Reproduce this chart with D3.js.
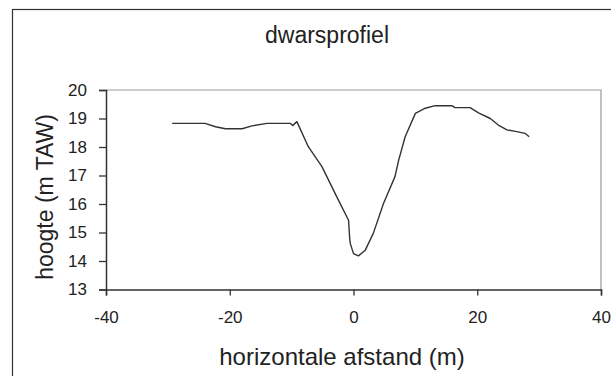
<!DOCTYPE html>
<html>
<head>
<meta charset="utf-8">
<script src="https://cdn.jsdelivr.net/npm/d3@7"></script>
<style>
  body { margin: 0; background: #fff; }
  svg { display: block; font-family: "Liberation Sans", Arial, sans-serif; }
</style>
</head>
<body>
<div id="chart"></div>
<script>
// profile points: distance (m) and height (m TAW)
const distance = [-29.3, -24.0, -22.3, -20.7, -18.0, -16.4, -14.0, -10.2, -9.85, -9.15,
  -7.3, -5.1, -2.7, -0.8, -0.6, -0.5, 0.0, 0.8, 1.9, 3.2, 4.85, 6.7, 7.3, 8.35,
  10.0, 11.6, 13.2, 15.9, 16.4, 18.85, 20.2, 22.1, 23.4, 24.8, 26.4, 27.7, 28.4];
const height = [18.83, 18.83, 18.71, 18.64, 18.64, 18.74, 18.83, 18.83, 18.75, 18.89,
  18.01, 17.31, 16.25, 15.43, 14.75, 14.6, 14.26, 14.18, 14.38, 14.97, 16.02, 16.96, 17.54, 18.36,
  19.18, 19.36, 19.45, 19.45, 19.38, 19.38, 19.2, 19.0, 18.77, 18.6, 18.54, 18.48, 18.36];
const xTicks = [-40, -20, 0, 20, 40];
const yTicks = [13, 14, 15, 16, 17, 18, 19, 20];

const width = 611, heightPx = 376;
const plot = { left: 106, right: 601, top: 90, bottom: 289.5 };

const svg = d3.select("#chart").append("svg")
  .attr("width", width)
  .attr("height", heightPx);

svg.append("rect")
  .attr("width", width).attr("height", heightPx)
  .attr("fill", "#fff");

// outer chart frame
svg.append("rect")
  .attr("x", 12.5).attr("y", 9.5)
  .attr("width", 640).attr("height", 420)
  .attr("fill", "none")
  .attr("stroke", "#333")
  .attr("stroke-width", 1.2);

const x = d3.scaleLinear().domain([-40, 40]).range([plot.left, plot.right]);
const y = d3.scaleLinear().domain([13, 20]).range([plot.bottom, plot.top]);

// light border on top and right of the plot area
svg.append("path")
  .attr("d", `M${plot.left},${plot.top}H${plot.right}V${plot.bottom}`)
  .attr("fill", "none")
  .attr("stroke", "#999")
  .attr("stroke-width", 1.2);

const xAxis = svg.append("g")
  .attr("transform", `translate(0,${plot.bottom})`)
  .call(d3.axisBottom(x).tickValues(xTicks).tickSize(6).tickPadding(15).tickFormat(d => String(d)));

const yAxis = svg.append("g")
  .attr("transform", `translate(${plot.left},0)`)
  .call(d3.axisLeft(y).tickValues(yTicks).tickSize(7).tickPadding(12).tickFormat(d => String(d)));

[xAxis, yAxis].forEach(g => {
  g.select(".domain").attr("stroke", "#333").attr("stroke-width", 1.5);
  g.selectAll(".tick line").attr("stroke", "#333").attr("stroke-width", 1.3);
  g.selectAll(".tick text")
    .attr("fill", "#222")
    .style("font-size", "17px")
    .style("font-family", "'Liberation Sans', Arial, sans-serif");
});

// profile line
const line = d3.line()
  .x((d, i) => x(distance[i]))
  .y(d => y(d));

svg.append("path")
  .datum(height)
  .attr("d", line)
  .attr("fill", "none")
  .attr("stroke", "#333")
  .attr("stroke-width", 1.4)
  .attr("stroke-linejoin", "round");

// titles
svg.append("text")
  .attr("x", 327).attr("y", 43)
  .attr("text-anchor", "middle")
  .attr("fill", "#222")
  .style("font-size", "23px")
  .text("dwarsprofiel");

svg.append("text")
  .attr("x", 342).attr("y", 365)
  .attr("text-anchor", "middle")
  .attr("fill", "#222")
  .style("font-size", "24px")
  .text("horizontale afstand (m)");

svg.append("text")
  .attr("transform", "translate(53,197) rotate(-90)")
  .attr("text-anchor", "middle")
  .attr("fill", "#222")
  .style("font-size", "23px")
  .text("hoogte (m TAW)");
</script>
</body>
</html>
